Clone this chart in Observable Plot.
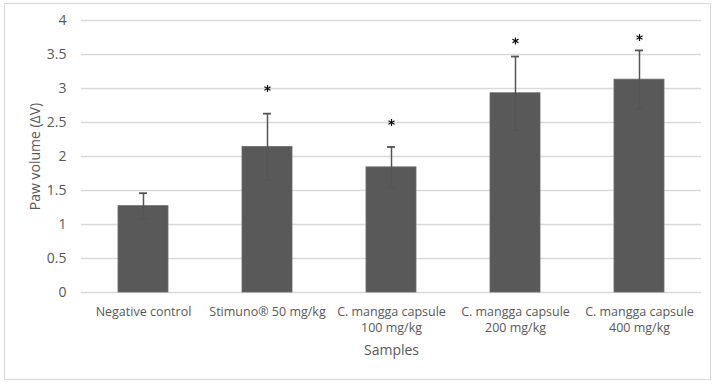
<!DOCTYPE html>
<html>
<head>
<meta charset="utf-8">
<script src="https://cdn.jsdelivr.net/npm/d3@7"></script>
<script src="https://cdn.jsdelivr.net/npm/@observablehq/plot@0.6"></script>
<style>
  html, body { margin: 0; padding: 0; background: #fff; }
  #wrap { position: relative; width: 717px; height: 386px; }
  #frame { position: absolute; left: 4px; top: 3px; width: 707px; height: 377px; border: 1px solid #d9d9d9; box-sizing: border-box; }
  #chart { position: absolute; left: 0; top: 0; }
</style>
</head>
<body>
<div id="wrap"><div id="frame"></div><div id="chart"></div></div>
<script>
const categories = ["Negative control", "Stimuno® 50 mg/kg", "C. mangga capsule\n100 mg/kg", "C. mangga capsule\n200 mg/kg", "C. mangga capsule\n400 mg/kg"];
const means = [1.27, 2.14, 1.84, 2.93, 3.13];
const errors = [0.19, 0.49, 0.30, 0.54, 0.43];
const stars = [null, 3.0, 2.5, 3.7, 3.75];
const yTicks = [0, 0.5, 1, 1.5, 2, 2.5, 3, 3.5, 4];

const data = categories.map((c, i) => ({name: c, mean: means[i], lo: means[i] - errors[i], hi: means[i] + errors[i], star: stars[i]}));
const starData = data.filter(d => d.star != null);

const fontFamily = "'Open Sans', sans-serif";
const plot = Plot.plot({
  width: 717,
  height: 386,
  marginLeft: 81,
  marginRight: 16,
  marginTop: 20,
  marginBottom: 94,
  style: {fontFamily, fontSize: "12px", color: "#595959", background: "transparent"},
  x: {domain: categories, paddingInner: 0.6, paddingOuter: 0.3, label: "Samples"},
  y: {domain: [0, 4], label: "Paw volume (ΔV)"},
  marks: [
    Plot.ruleY(yTicks, {stroke: "#d9d9d9", strokeWidth: 1.3}),
    Plot.barY(data, {x: "name", y: "mean", fill: "#595959", stroke: "#6a6a6a", strokeWidth: 0.8}),
    Plot.ruleX(data, {x: "name", y1: "lo", y2: "hi", stroke: "#555", strokeWidth: 1.5}),
    Plot.tickY(data, {x: "name", y: "hi", stroke: "#555", strokeWidth: 1.8, insetLeft: 21, insetRight: 21}),
    Plot.tickY(data, {x: "name", y: "lo", stroke: "#555", strokeWidth: 1.2, insetLeft: 21, insetRight: 21}),
    Plot.dot(starData, {x: "name", y: "star", symbol: "asterisk", r: 3.3, stroke: "#111", strokeWidth: 1.2}),
    Plot.axisY({ticks: yTicks, tickSize: 0, tickPadding: 15, tickFormat: d => String(d), fontSize: 14, label: null, color: "#595959"}),
    Plot.axisY({ticks: [], tickSize: 0, fontSize: 14, label: "Paw volume (ΔV)", labelAnchor: "center", labelArrow: "none", labelOffset: 51, color: "#595959"}),
    Plot.axisX({tickSize: 0, tickPadding: 12, lineHeight: 1.3, fontSize: 12.5, label: null, color: "#595959"}),
    Plot.axisX({ticks: [], tickSize: 0, fontSize: 14, label: "Samples", labelAnchor: "center", labelArrow: "none", labelOffset: 62, color: "#595959"})
  ]
});
document.getElementById("chart").appendChild(plot);
</script>
</body>
</html>
